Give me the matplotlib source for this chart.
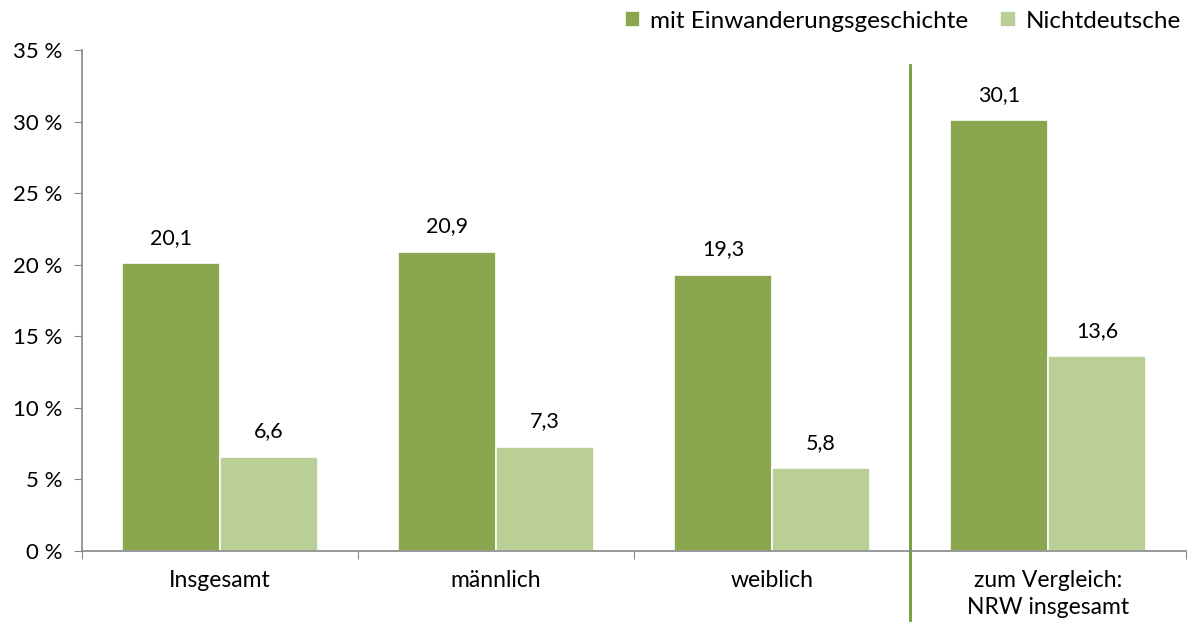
import numpy as np
import matplotlib
matplotlib.use("Agg")
import matplotlib.pyplot as plt
from matplotlib.ticker import FuncFormatter

plt.rcParams['font.family'] = ['Lato', 'DejaVu Sans']

# daten
kategorien = ["Insgesamt", "männlich", "weiblich", "zum Vergleich:\nNRW insgesamt"]
einwanderung = [20.1, 20.9, 19.3, 30.1]
nichtdeutsche = [6.6, 7.3, 5.8, 13.6]
serien = ["mit Einwanderungsgeschichte", "Nichtdeutsche"]

dunkel = "#8aa64f"
hell = "#b9cf95"

fig = plt.figure(figsize=(11.96, 6.28), dpi=100)
ax = fig.add_axes([0.0686, 0.1226, 0.9230, 0.7978])

x = np.arange(len(kategorien))
w = 0.355
b1 = ax.bar(x - w / 2, einwanderung, w, color=dunkel, edgecolor="white", linewidth=1.2, label=serien[0])
b2 = ax.bar(x + w / 2, nichtdeutsche, w, color=hell, edgecolor="white", linewidth=1.2, label=serien[1])

# werte ueber den balken
for balken, werte in [(b1, einwanderung), (b2, nichtdeutsche)]:
    for r, v in zip(balken, werte):
        ax.annotate(f"{v:.1f}".replace(".", ","), (r.get_x() + r.get_width() / 2, v),
                    xytext=(0, 11), textcoords="offset points", ha="center", va="bottom", fontsize=15.5)

ax.set_xlim(-0.5, len(kategorien) - 0.5)
ax.set_ylim(0, 35)
ax.set_yticks(np.arange(0, 36, 5))
ax.yaxis.set_major_formatter(FuncFormatter(lambda v, p: f"{v:.0f} %"))
ax.tick_params(axis="y", labelsize=16, length=6, color="#888888", pad=8)

# gruppen-grenzen als ticks, labels mittig
ax.set_xticks(np.arange(-0.5, len(kategorien), 1.0))
ax.set_xticklabels([])
ax.set_xticks(x, minor=True)
ax.set_xticklabels(kategorien, minor=True, fontsize=16.5, linespacing=1.35)
ax.tick_params(axis="x", which="major", length=6, color="#888888")
ax.tick_params(axis="x", which="minor", length=0, pad=14)

for s in ["top", "right"]:
    ax.spines[s].set_visible(False)
for s in ["left", "bottom"]:
    ax.spines[s].set_color("#888888")
    ax.spines[s].set_linewidth(1.2)

# trennlinie vor NRW
ax.axvline(2.5, ymin=-0.138, ymax=0.97, color="#6f9a3a", linewidth=2, clip_on=False)

ax.legend(loc="lower right", bbox_to_anchor=(1.005, 1.015), ncol=2, frameon=False, fontsize=17.5,
          handlelength=0.65, handleheight=0.65, handletextpad=0.4, columnspacing=1.3, borderaxespad=0.05)

fig.savefig("out.png", dpi=100)
